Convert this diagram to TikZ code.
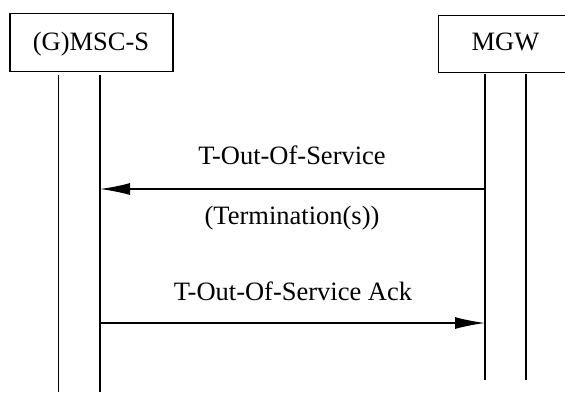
\documentclass[tikz,border=0pt]{standalone}
\usepackage{fontspec}
\setmainfont{Liberation Serif}
\usetikzlibrary{arrows.meta}
\begin{document}
\begin{tikzpicture}[x=1pt,y=-1pt,
  every node/.style={font=\fontsize{26.5}{30}\selectfont, inner sep=0pt},
  entity/.style={draw, line width=1.6pt},
  life/.style={line width=1.4pt},
  msg/.style={line width=1.4pt, -{Latex[length=30pt,width=12pt]}}]
\useasboundingbox (0,0) rectangle (565,392);
% boxes
\draw[entity] (10,13.5) rectangle (173,71.5);
\node[anchor=base] (msc) at (91,50.5) {(G)MSC-S};
\draw[entity] (438.5,15.5) rectangle (574,72.5);
\node[anchor=base] (mgw) at (505.5,50) {MGW};
% lifelines
\coordinate (l1t) at (58.5,75); \coordinate (l1b) at (58.5,392);
\coordinate (l2t) at (100,75); \coordinate (l2b) at (100,392);
\coordinate (r1t) at (485,74); \coordinate (r1b) at (485,380);
\coordinate (r2t) at (526,74); \coordinate (r2b) at (526,380);
\draw[life] (l1t) -- (l1b);
\draw[life] (l2t) -- (l2b);
\draw[life] (r1t) -- (r1b);
\draw[life] (r2t) -- (r2b);
% messages
\coordinate (m1s) at (485,189); \coordinate (m1e) at (100,189);
\draw[msg] (m1s) -- (m1e);
\node[anchor=base] (t1) at (292,164) {T-Out-Of-Service};
\node[anchor=base] (t2) at (292,224) {(Termination(s))};
\coordinate (m2s) at (100,323); \coordinate (m2e) at (485,323);
\draw[msg] (m2s) -- (m2e);
\node[anchor=base] (t3) at (293,300) {T-Out-Of-Service Ack};
\end{tikzpicture}
\end{document}
